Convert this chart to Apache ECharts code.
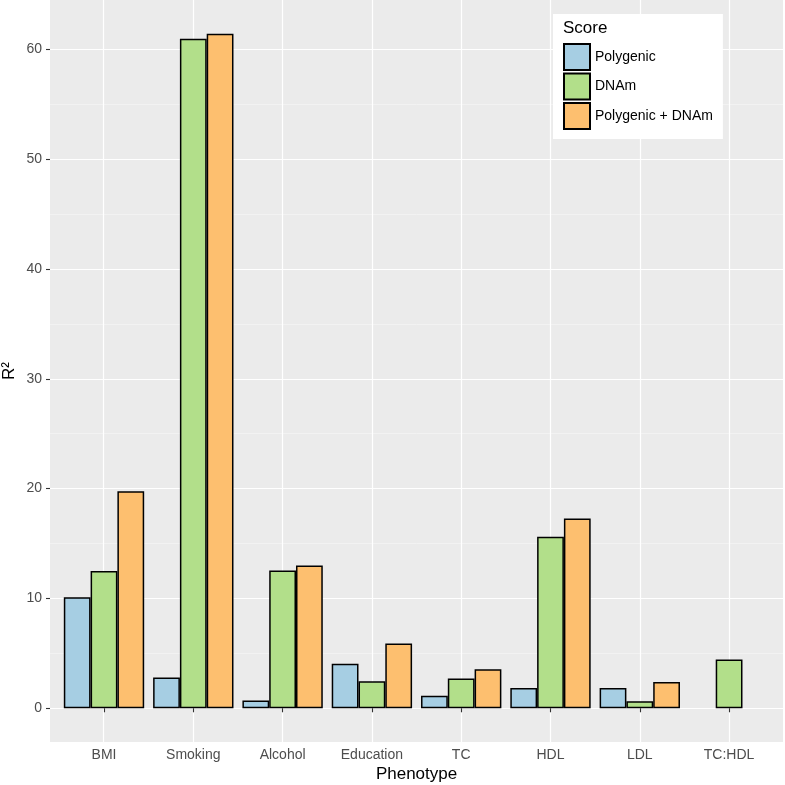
<!DOCTYPE html>
<html>
<head>
<meta charset="utf-8">
<script src="https://cdn.jsdelivr.net/npm/echarts@6/dist/echarts.min.js"></script>
<style>html,body{margin:0;padding:0;background:#fff;}#c{width:785px;height:785px;}</style>
</head>
<body>
<div id="c"></div>
<script>
const categories = ['BMI', 'Smoking', 'Alcohol', 'Education', 'TC', 'HDL', 'LDL', 'TC:HDL'];
const polygenic = [10.1, 2.8, 0.7, 4.05, 1.15, 1.85, 1.85, null];
const dnam = [12.5, 60.97, 12.54, 2.45, 2.7, 15.62, 0.65, 4.45];
const combined = [19.75, 61.42, 13.0, 5.9, 3.55, 17.28, 2.4, null];
const seriesNames = ['Polygenic', 'DNAm', 'Polygenic + DNAm'];
const colors = ['#A6CEE3', '#B2DF8A', '#FDBF6F'];
const yMajorTicks = [0, 10, 20, 30, 40, 50, 60];
const yMinorTicks = [5, 15, 25, 35, 45, 55];
const xTickPositions = [1, 2, 3, 4, 5, 6, 7, 8];

const FONT = 'Liberation Sans, Arial, Helvetica, sans-serif';
const dataMax = Math.max(...dnam, ...combined);
const yMin = -dataMax * 0.05;
const yMax = dataMax * 1.05;

const chart = echarts.init(document.getElementById('c'), null, {renderer: 'canvas'});
const mk = (name, data, color) => ({
  name: name, type: 'bar', xAxisIndex: 1, yAxisIndex: 2, data: data,
  barGap: '0%', barCategoryGap: '10%',
  itemStyle: {color: color, borderColor: '#000', borderWidth: 1.5},
  emphasis: {disabled: true}
});
chart.setOption({
  animation: false,
  textStyle: {fontFamily: FONT},
  title: {text: 'Score', left: 563, top: 20, padding: 0,
    textStyle: {fontSize: 17, fontWeight: 'normal', color: '#000', fontFamily: FONT}, z: 10},
  legend: {
    data: seriesNames, orient: 'vertical', left: 553, top: 14,
    backgroundColor: '#fff', padding: [29, 10, 9, 10],
    itemWidth: 26, itemHeight: 26, itemGap: 1.5, icon: 'rect',
    textStyle: {fontSize: 14, color: '#000', fontFamily: FONT},
    selectedMode: false
  },
  grid: [
    {left: 50, right: 2, top: 0, bottom: 43, show: true, backgroundColor: '#EBEBEB', borderWidth: 0, outerBoundsMode: 'none', containLabel: false},
    {left: 59.35, right: 11.25, top: 0, bottom: 43, outerBoundsMode: 'none', containLabel: false}
  ],
  xAxis: [
    {gridIndex: 0, type: 'value', min: 0.4, max: 8.6,
      axisLine: {show: false}, axisLabel: {show: false},
      axisTick: {show: false, customValues: xTickPositions},
      splitLine: {show: true, lineStyle: {color: '#fff', width: 1.2}}},
    {gridIndex: 1, type: 'category', data: categories,
      axisLine: {show: false},
      axisTick: {show: true, alignWithLabel: true, length: 4, lineStyle: {color: '#333', width: 1.1}},
      axisLabel: {color: '#4D4D4D', fontSize: 14, margin: 6, fontFamily: FONT},
      splitLine: {show: false},
      name: 'Phenotype', nameLocation: 'middle', nameGap: 24, nameMoveOverlap: false,
      nameTextStyle: {fontSize: 17, color: '#000', fontFamily: FONT}}
  ],
  yAxis: [
    {gridIndex: 0, type: 'value', min: yMin, max: yMax,
      axisLine: {show: false},
      axisTick: {show: true, length: 4, lineStyle: {color: '#333', width: 1.1}, customValues: yMajorTicks},
      axisLabel: {color: '#4D4D4D', fontSize: 14, margin: 8, customValues: yMajorTicks, fontFamily: FONT},
      splitLine: {show: true, lineStyle: {color: '#fff', width: 1.2}},
      name: 'R²', nameLocation: 'middle', nameGap: 32, nameRotate: 90, nameMoveOverlap: false,
      nameTextStyle: {fontSize: 17, color: '#000', fontFamily: FONT}},
    {gridIndex: 0, type: 'value', min: yMin, max: yMax,
      axisLine: {show: false}, axisLabel: {show: false},
      axisTick: {show: false, customValues: yMinorTicks},
      splitLine: {show: true, lineStyle: {color: '#F7F7F7', width: 0.6}}},
    {gridIndex: 1, type: 'value', min: yMin, max: yMax, show: false, splitLine: {show: false}}
  ],
  series: [
    mk(seriesNames[0], polygenic, colors[0]),
    mk(seriesNames[1], dnam, colors[1]),
    mk(seriesNames[2], combined, colors[2])
  ]
});
</script>
</body>
</html>
